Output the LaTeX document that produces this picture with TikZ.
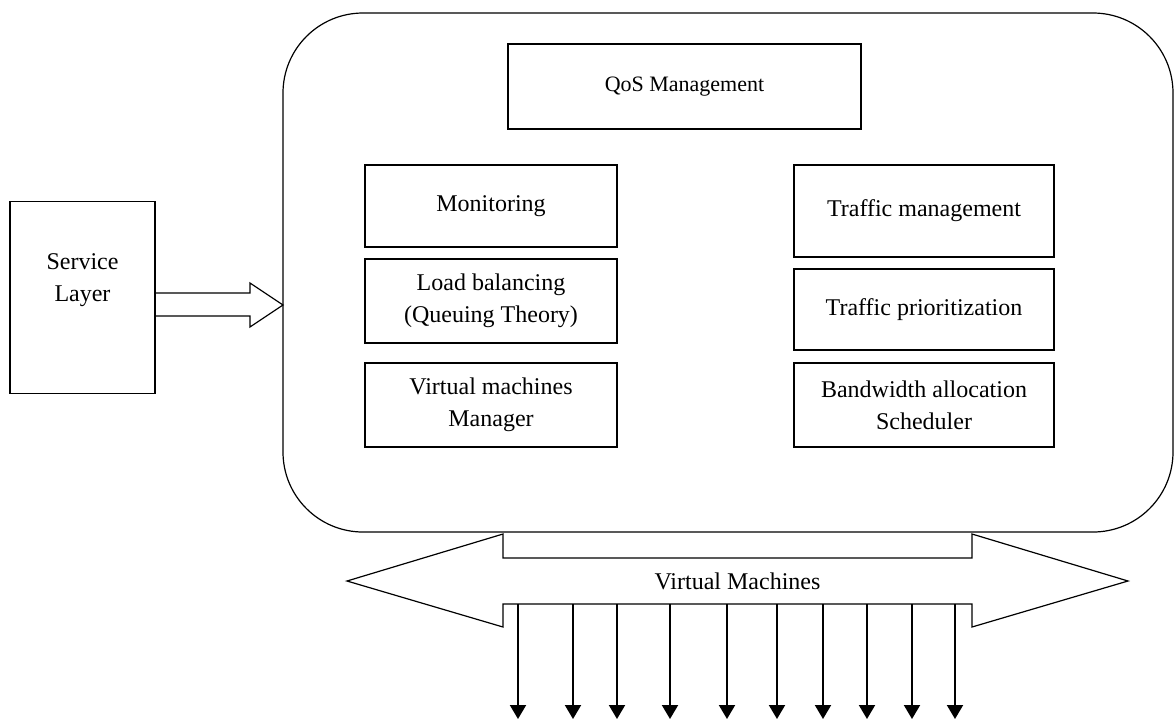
\documentclass[tikz,border=0pt]{standalone}
\usepackage{fontspec}
\setmainfont{Liberation Serif}
\usetikzlibrary{arrows.meta}

\begin{document}
\begin{tikzpicture}
    [
    x=0.5pt, y=-0.5pt,
    font=\fontsize{12pt}{16pt}\selectfont,
    block/.style={draw,rectangle,line width=0.6pt,align=center,inner sep=0pt,minimum width=126pt,minimum height=42pt},
    outline/.style={draw,line width=0.6pt,line join=miter},
    vmarrow/.style={line width=1pt,-{Triangle[width=8pt,length=7pt]}}
    ]
    \useasboundingbox (0,0) rectangle (1174,720);

    \node (body) at (728,272.5) [draw,rectangle,rounded corners=40pt,line width=0.6pt,minimum width=445pt,minimum height=259.5pt] {};

    \node (sl) at (82.5,297.5) [block,minimum width=72.5pt,minimum height=96pt] {};
    \node (sltext) at (82.5,280) [align=center] {Service\\Layer};
    \draw [outline] (155,293) -- (250,293) -- (250,283) -- (283,305) -- (250,327) -- (250,316) -- (155,316);

    \node (qos) at (684.5,86.5) [block,minimum width=176.5pt,minimum height=42.5pt,font=\fontsize{11pt}{15pt}\selectfont] {QoS Management};

    \node (mon) at (491,206) [block,minimum height=41pt] {Monitoring};
    \node (lb) at (491,301) [block] {Load balancing\\(Queuing Theory)};
    \node (vmm) at (491,405) [block] {Virtual machines\\Manager};

    \node (tm) at (924,211) [block,minimum width=130pt,minimum height=46pt] {Traffic management};
    \node (tp) at (924,309.5) [block,minimum width=130pt,minimum height=40.5pt] {Traffic prioritization};
    \node (bw) at (924,405) [block,minimum width=130pt] {Bandwidth allocation\\Scheduler};

    \draw [outline] (347,581) -- (503,534) -- (503,558) -- (972,558) -- (972,534) -- (1128,581)
      -- (972,627) -- (972,604) -- (503,604) -- (503,627) -- cycle;
    \node (vm) at (737.5,581) {Virtual Machines};

    \foreach \x [count=\i] in {518,573,617,670,727,777,823,867,912,955}
      {
      \coordinate (top\i) at (\x,604);
      \coordinate (end\i) at (\x,719);
      \draw [vmarrow] (top\i) -- (end\i);
      }
\end{tikzpicture}
\end{document}
